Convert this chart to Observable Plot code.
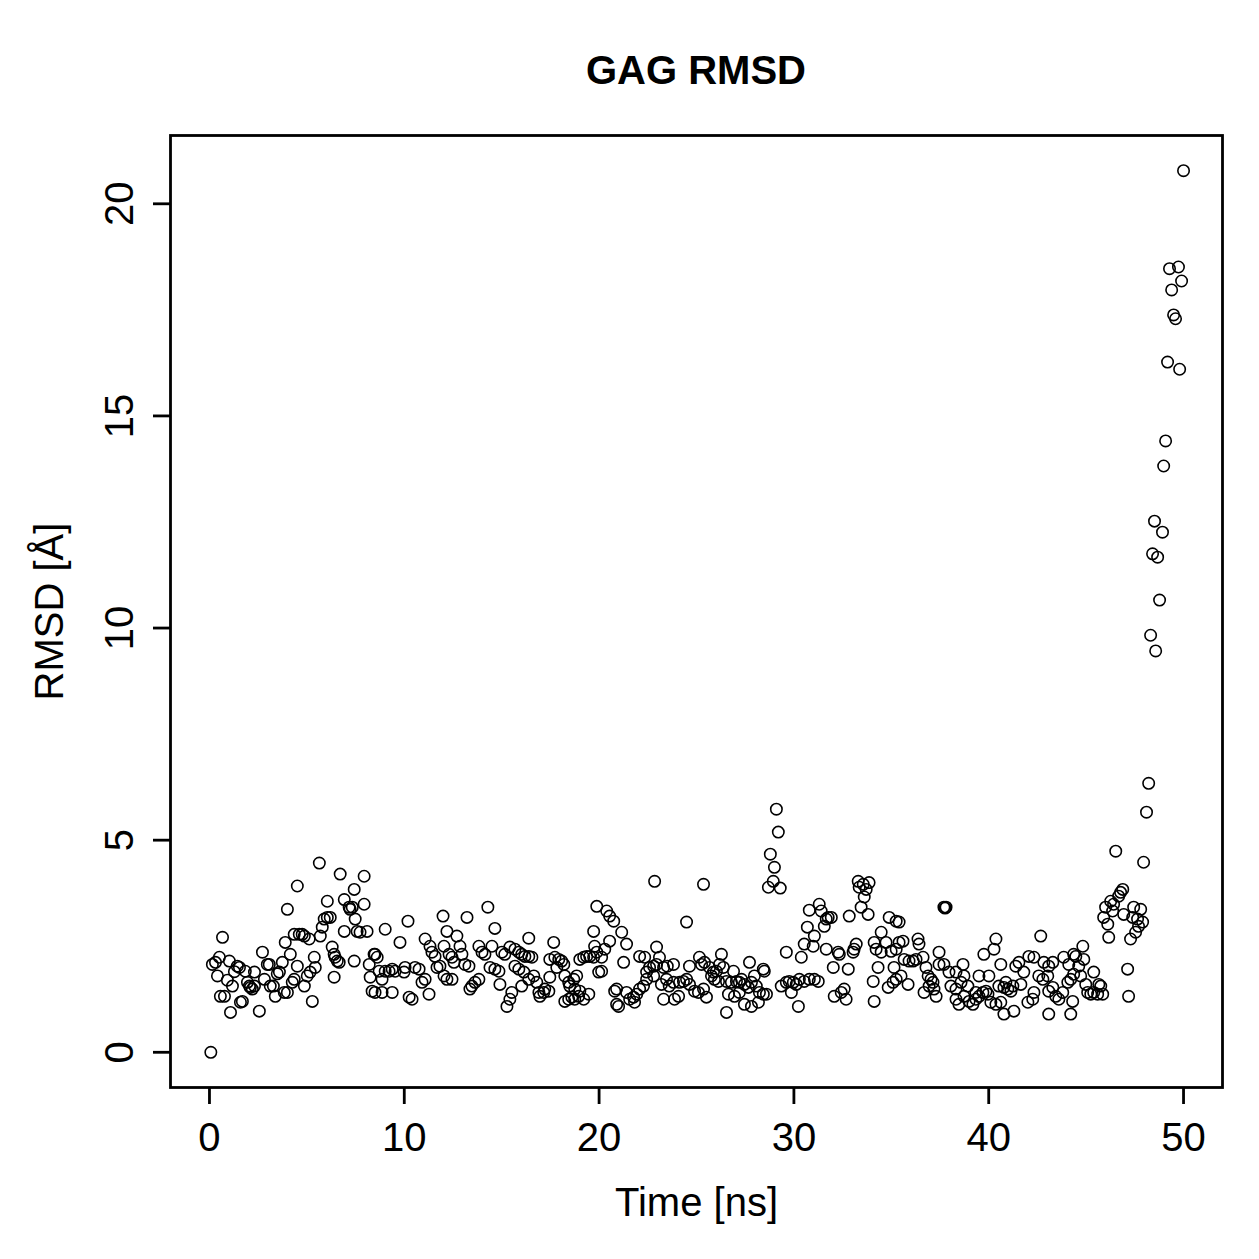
<!DOCTYPE html>
<html><head><meta charset="utf-8">
<script src="https://cdn.jsdelivr.net/npm/d3@7"></script>
<script src="https://cdn.jsdelivr.net/npm/@observablehq/plot@0.6"></script>
<style>
body{margin:0;background:#fff;font-family:"Liberation Sans",Arial,sans-serif}
#title{margin-left:170px;width:1052px;height:100px;box-sizing:border-box;padding-top:50px;text-align:center;font:bold 40px/40px "Liberation Sans",Arial,sans-serif;color:#000}
</style></head><body>
<div id="title">GAG RMSD</div>
<div id="chart"></div>
<script>
const xTicks = [0, 10, 20, 30, 40, 50];
const yTicks = [0, 5, 10, 15, 20];
const xLabel = "Time [ns]";
const yLabel = "RMSD [Å]";

// [time (ns), RMSD (Å)], by time span
const span0to8 = [[0.07,0],[0.15,2.07],[0.31,2.12],[0.41,1.8],[0.51,2.24],[0.56,1.32],[0.67,2.71],[0.77,1.32],[0.92,1.7],[1.02,2.15],[1.08,0.94],[1.18,1.56],[1.28,1.9],[1.43,2.03],[1.54,2.0],[1.59,1.18],[1.69,1.2],[1.84,1.91],[1.95,1.65],[2.05,1.56],[2.1,1.53],[2.2,1.49],[2.31,1.56],[2.31,1.89],[2.56,0.97],[2.72,2.36],[2.82,1.72],[2.97,2.07],[3.07,2.07],[3.12,1.56],[3.28,1.56],[3.38,1.32],[3.48,1.85],[3.59,1.89],[3.74,2.12],[3.84,1.41],[3.89,2.59],[4.0,1.41],[4.0,3.37],[4.15,2.31],[4.25,1.65],[4.35,1.72],[4.35,2.78],[4.51,3.92],[4.51,2.03],[4.61,2.78],[4.76,2.78],[4.87,2.74],[4.87,1.56],[5.02,1.8],[5.12,2.67],[5.17,1.89],[5.28,1.2],[5.38,2.24],[5.43,2.0],[5.64,4.46],[5.69,2.74],[5.79,2.95],[5.89,3.14],[6.05,3.18],[6.05,3.56],[6.2,3.18],[6.3,2.48],[6.4,2.31],[6.4,1.77],[6.45,2.24],[6.56,2.15],[6.66,2.12],[6.71,4.2],[6.92,3.6],[6.92,2.85],[7.17,3.42],[7.22,3.37],[7.33,3.42],[7.43,3.84],[7.43,2.15],[7.48,3.14],[7.58,2.85],[7.73,2.83],[7.94,3.49],[7.94,4.15],[8.09,2.85],[8.2,2.07],[8.25,1.77],[8.35,1.44],[8.45,2.31]];
const span8to17 = [[8.5,2.31],[8.5,1.41],[8.61,2.24],[8.71,1.91],[8.86,1.72],[8.86,1.41],[9.02,2.9],[9.02,1.91],[9.22,1.91],[9.38,1.96],[9.38,1.41],[9.53,1.91],[9.78,2.59],[9.99,1.89],[10.04,2.0],[10.19,3.09],[10.25,1.3],[10.4,1.25],[10.55,2.0],[10.76,1.96],[10.91,1.65],[11.07,1.72],[11.07,2.67],[11.27,1.37],[11.32,2.5],[11.42,2.36],[11.58,2.26],[11.68,2.0],[11.83,2.03],[11.99,3.21],[12.04,2.5],[12.04,1.8],[12.19,2.85],[12.19,1.72],[12.3,2.31],[12.45,2.24],[12.45,1.72],[12.55,2.12],[12.7,2.74],[12.86,2.5],[12.96,2.31],[13.11,2.07],[13.22,3.18],[13.32,2.03],[13.37,1.49],[13.47,1.56],[13.63,1.65],[13.83,1.72],[13.83,2.5],[13.99,2.36],[14.14,2.31],[14.29,3.42],[14.4,2.0],[14.5,2.5],[14.65,2.92],[14.65,1.96],[14.86,1.91],[14.91,1.6],[15.01,2.36],[15.16,2.31],[15.27,1.08],[15.42,1.25],[15.42,2.48],[15.52,1.41],[15.68,2.43],[15.68,2.03],[15.88,2.36],[15.88,1.96],[16.03,2.31],[16.03,1.56],[16.14,1.89],[16.19,2.26],[16.39,2.69],[16.39,2.26],[16.39,1.72],[16.55,2.24],[16.65,1.8],[16.8,1.65],[16.91,1.41],[16.96,1.32],[17.16,1.41],[17.21,1.49]];
const span17to27 = [[17.42,1.44],[17.47,2.19],[17.47,1.77],[17.67,2.59],[17.73,2.24],[17.83,2.0],[17.93,2.19],[18.08,2.15],[18.19,2.07],[18.24,1.8],[18.24,1.2],[18.44,1.65],[18.44,1.25],[18.49,1.56],[18.6,1.3],[18.7,1.72],[18.75,1.25],[18.75,1.49],[18.85,1.8],[18.95,1.32],[19.01,1.44],[19.01,2.19],[19.21,1.25],[19.21,2.24],[19.36,2.26],[19.47,1.37],[19.52,2.26],[19.72,2.24],[19.72,2.85],[19.77,2.5],[19.88,2.36],[19.88,3.44],[19.98,1.89],[20.13,1.91],[20.13,2.24],[20.29,2.43],[20.39,3.33],[20.54,3.21],[20.54,2.62],[20.75,3.09],[20.8,1.44],[20.9,1.49],[20.9,1.13],[21.0,1.08],[21.16,2.83],[21.26,2.12],[21.41,2.55],[21.41,1.41],[21.57,1.25],[21.77,1.3],[21.82,1.18],[21.93,1.37],[22.08,1.49],[22.08,2.26],[22.28,1.56],[22.34,2.24],[22.44,1.89],[22.44,1.72],[22.59,2.0],[22.8,2.03],[22.8,1.8],[22.85,4.03],[22.95,2.07],[22.95,2.48],[23.1,2.24],[23.2,1.6],[23.31,1.25],[23.31,2.0],[23.46,1.72],[23.5,2.03],[23.6,1.56],[23.82,1.65],[23.82,2.07],[23.87,1.25],[24.08,1.32],[24.13,1.65],[24.33,1.67],[24.49,1.72],[24.49,3.07],[24.64,1.6],[24.64,2.03],[24.9,1.44],[25.1,1.41],[25.15,2.24],[25.26,2.07],[25.36,1.49],[25.36,3.96],[25.41,2.12],[25.51,1.3],[25.67,2.0],[25.77,1.8],[25.87,1.89],[25.92,1.72],[26.02,1.91],[26.13,1.67],[26.18,2.07],[26.28,2.31],[26.54,0.94]];
const span26to35 = [[26.38,2.0],[26.54,1.67],[26.64,1.37],[26.79,1.65],[26.9,1.91],[26.95,1.32],[27.05,1.67],[27.2,1.65],[27.2,1.41],[27.31,1.72],[27.46,1.6],[27.46,1.13],[27.66,1.53],[27.72,2.12],[27.82,1.65],[27.82,1.08],[27.97,1.8],[28.07,1.56],[28.18,1.18],[28.23,1.41],[28.43,1.37],[28.43,1.96],[28.48,1.91],[28.59,1.37],[28.69,3.89],[28.79,4.67],[28.94,4.03],[29.0,4.36],[29.1,5.73],[29.2,5.19],[29.3,3.87],[29.35,1.56],[29.61,1.65],[29.61,2.36],[29.76,1.67],[29.87,1.41],[29.97,1.65],[30.12,1.6],[30.23,1.08],[30.28,1.72],[30.38,2.24],[30.53,1.67],[30.53,2.55],[30.69,2.95],[30.79,1.72],[30.79,3.35],[30.99,2.5],[31.05,1.72],[31.05,2.74],[31.25,1.67],[31.3,3.49],[31.4,3.33],[31.56,2.97],[31.66,3.14],[31.66,2.43],[31.76,3.18],[31.92,3.18],[32.02,2.0],[32.07,1.32],[32.27,2.36],[32.33,2.31],[32.43,1.41],[32.58,1.49],[32.68,1.25],[32.79,1.96],[32.84,3.21],[33.04,2.36],[33.09,2.43],[33.2,2.55],[33.3,4.03],[33.35,3.89],[33.45,3.42],[33.56,3.96],[33.61,3.66],[33.71,3.84],[33.81,3.25],[33.86,4.0],[34.07,1.67],[34.12,1.2],[34.12,2.59],[34.22,2.43],[34.32,2.0],[34.48,2.83],[34.48,2.36],[34.73,2.59],[34.84,1.53],[34.89,3.18],[34.99,2.38],[35.09,1.65],[35.14,2.0],[35.25,1.72],[35.25,3.09],[35.4,3.07],[35.4,2.59]];
const span35to45 = [[35.25,2.43],[35.5,1.8],[35.6,2.62],[35.66,2.19],[35.86,1.6],[35.91,2.15],[36.12,2.15],[36.27,2.19],[36.37,2.67],[36.42,2.55],[36.63,2.24],[36.68,1.41],[36.78,2.0],[36.89,1.8],[36.94,1.56],[37.04,1.72],[37.14,1.65],[37.19,1.49],[37.3,1.32],[37.45,2.36],[37.45,2.07],[37.7,3.42],[37.7,2.07],[37.76,3.4],[37.81,3.42],[37.96,1.89],[38.06,1.56],[38.32,1.89],[38.32,1.49],[38.32,1.25],[38.47,1.13],[38.58,1.65],[38.68,2.07],[38.73,1.8],[38.73,1.32],[38.93,1.56],[38.99,1.2],[39.19,1.13],[39.34,1.25],[39.34,1.41],[39.5,1.32],[39.5,1.8],[39.7,1.41],[39.75,2.31],[39.86,1.44],[39.96,1.37],[40.01,1.8],[40.11,1.18],[40.27,2.43],[40.37,2.67],[40.37,1.13],[40.52,1.56],[40.62,2.07],[40.62,1.18],[40.78,1.53],[40.78,0.9],[40.88,1.65],[40.98,1.49],[41.14,1.44],[41.24,1.56],[41.29,0.97],[41.39,2.03],[41.55,2.12],[41.65,1.6],[41.8,1.89],[42.01,1.18],[42.06,2.26],[42.26,1.25],[42.32,2.24],[42.32,1.41],[42.57,1.8],[42.67,2.74],[42.78,1.72],[42.83,2.12],[43.03,1.8],[43.08,2.03],[43.08,1.44],[43.08,0.9],[43.29,2.12],[43.29,1.53],[43.44,1.32],[43.6,1.25],[43.8,1.41],[43.85,2.24],[44.06,1.65],[44.11,2.07],[44.21,1.72],[44.21,0.9],[44.31,1.2],[44.36,2.31]];
const span44to48 = [[44.36,1.84],[44.47,2.26],[44.62,2.03],[44.72,1.8],[44.83,2.5],[44.88,2.19],[44.98,1.6],[45.08,1.41],[45.24,1.37],[45.39,1.89],[45.39,1.41],[45.59,1.37],[45.65,1.6],[45.75,1.56],[45.85,1.37],[45.9,3.18],[46.0,3.42],[46.11,3.02],[46.16,2.71],[46.26,3.56],[46.36,3.33],[46.41,3.49],[46.52,4.74],[46.67,3.68],[46.77,3.77],[46.88,3.84],[46.93,3.25],[47.13,1.96],[47.18,1.32],[47.28,2.67],[47.39,3.18],[47.44,3.42],[47.54,2.83],[47.64,3.14],[47.69,2.97],[47.8,3.37],[47.9,3.07],[47.95,4.48]];
const span48to50 = [[48.1,5.66],[48.21,6.34],[48.31,9.83],[48.41,11.75],[48.51,12.52],[48.57,9.46],[48.67,11.67],[48.77,10.66],[48.92,12.26],[48.98,13.82],[49.08,14.41],[49.18,16.27],[49.28,18.47],[49.39,17.97],[49.49,17.38],[49.59,17.29],[49.74,18.51],[49.8,16.1],[49.9,18.18],[50.0,20.78]];

const data = [...span0to8, ...span8to17, ...span17to27, ...span26to35, ...span35to45, ...span44to48, ...span48to50]
  .map(([t, v]) => ({time: t, rmsd: v}));

const chart = Plot.plot({
  width: 1259,
  height: 1159,
  marginLeft: 170,
  marginRight: 37,
  marginTop: 35,
  marginBottom: 172,
  style: {fontFamily: '"Liberation Sans", Arial, sans-serif', background: "#fff", color: "#000", overflow: "visible"},
  x: {domain: [-2, 52]},
  y: {domain: [-0.83, 21.61]},
  marks: [
    Plot.frame({stroke: "#000", strokeWidth: 2.8}),
    Plot.axisX({ticks: xTicks, tickSize: 17, tickPadding: 18, fontSize: 40, strokeWidth: 2.8, tickFormat: d => String(d), label: null}),
    Plot.axisY({ticks: yTicks, tickSize: 17, strokeWidth: 2.8, tickFormat: () => "", label: null}),
    Plot.text(yTicks, {y: d => d, text: d => String(d), frameAnchor: "left", dx: -50, rotate: -90, fontSize: 40, textAnchor: "middle", lineAnchor: "middle"}),
    Plot.text([xLabel], {text: d => d, frameAnchor: "bottom", dy: 116, fontSize: 40, textAnchor: "middle", lineAnchor: "middle"}),
    Plot.text([yLabel], {text: d => d, frameAnchor: "left", dx: -120, rotate: -90, fontSize: 40, textAnchor: "middle", lineAnchor: "middle"}),
    Plot.dot(data, {x: "time", y: "rmsd", r: 5.7, stroke: "#000", strokeWidth: 1.6, fill: "none"})
  ]
});
document.getElementById("chart").appendChild(chart);
</script>
</body></html>
